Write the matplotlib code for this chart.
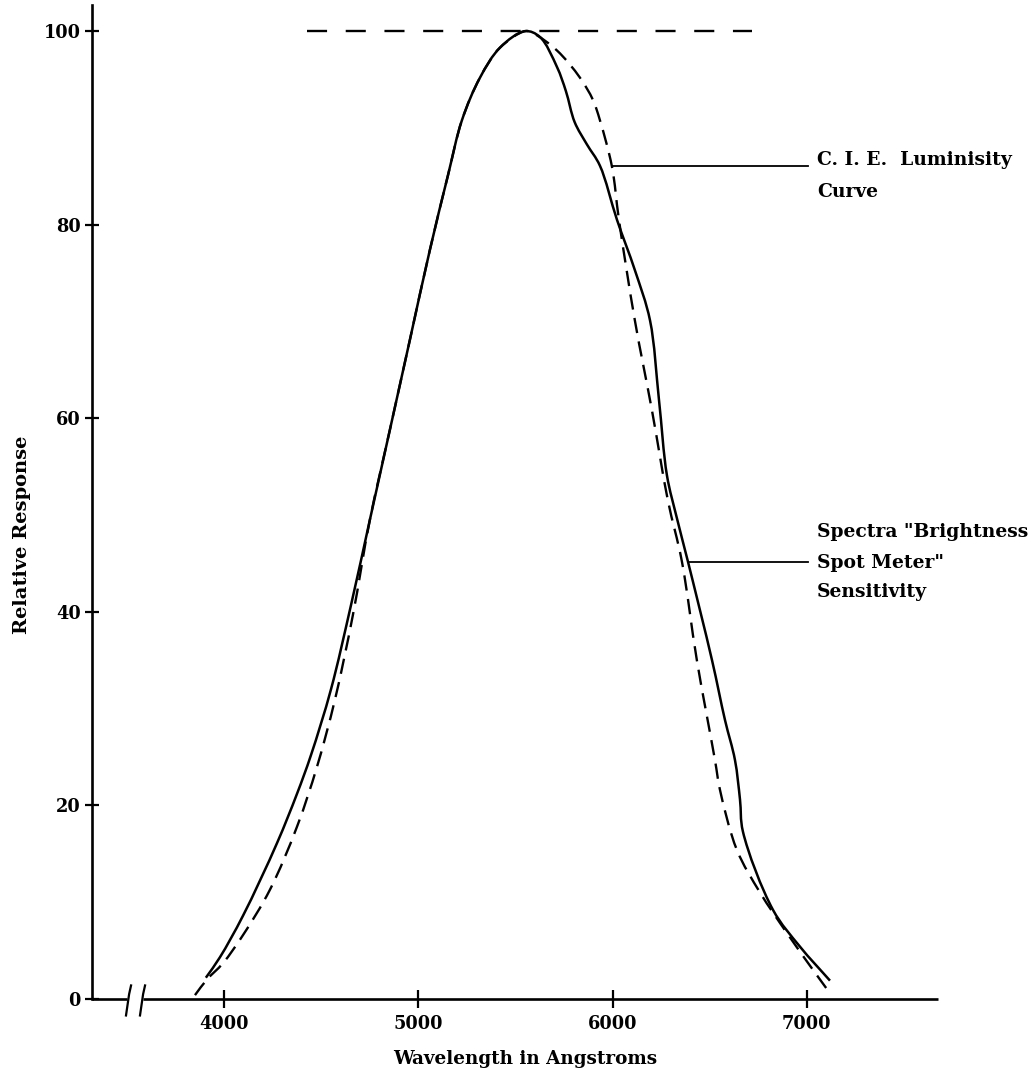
import matplotlib
matplotlib.use("Agg")
import matplotlib.pyplot as plt
import numpy as np
from matplotlib.path import Path
from matplotlib.patches import PathPatch

# Spectra "Brightness Spot Meter" sensitivity (solid curve)
meter_wl = [3907, 3979, 4098, 4273, 4376, 4448, 4551, 4654, 4751, 4854, 4957,
            5060, 5153, 5225, 5318, 5421, 5550, 5626, 5714, 5760, 5805, 5868,
            5935, 6023, 6115, 6193, 6239, 6280, 6331, 6388, 6512, 6579, 6630,
            6656, 6671, 6826, 6965, 7119]
meter_resp = [2.2, 4.3, 8.6, 16.1, 21.2, 25.2, 32.0, 40.7, 49.5, 58.8, 68.1,
              77.4, 85.1, 90.8, 95.2, 98.3, 100.0, 99.4, 96.3, 93.8, 90.6, 88.3,
              86.1, 80.5, 75.3, 70.1, 61.9, 54.1, 49.7, 45.2, 35.0, 28.8, 24.7,
              20.6, 17.3, 9.2, 5.4, 1.9]

# C.I.E. luminosity curve (dashed curve)
cie_wl = [3851, 3912, 3995, 4098, 4237, 4376, 4479, 4571, 4664, 4751, 4854,
          4957, 5060, 5153, 5225, 5318, 5421, 5550, 5590, 5714, 5832, 5899,
          5935, 5997, 6033, 6115, 6203, 6285, 6357, 6434, 6527, 6553, 6640,
          6759, 6898, 7032, 7119]
cie_resp = [0.4, 2.0, 3.7, 6.6, 11.3, 17.8, 24.0, 30.9, 39.7, 49.5, 58.8,
            68.1, 77.4, 85.1, 90.8, 95.2, 98.3, 100.0, 99.8, 98.0, 95.2, 92.9,
            90.8, 86.0, 80.5, 70.1, 60.8, 51.5, 45.2, 35.0, 24.7, 21.6, 15.4,
            11.0, 6.8, 3.0, 0.6]

x_ticks = [4000, 5000, 6000, 7000]
y_ticks = [0, 20, 40, 60, 80, 100]
reference_level = 100
reference_span = [4427, 6718]

# Rough drawing units per data unit, used to space the spline knots
X_UNIT, Y_UNIT = 0.194, 9.68


def smooth_path(xs, ys):
    """Centripetal Catmull-Rom curve through every point, as a Bezier path."""
    data = np.column_stack([xs, ys]).astype(float)
    scale = np.array([X_UNIT, Y_UNIT])
    p = data * scale
    ext = np.vstack([2 * p[0] - p[1], p, 2 * p[-1] - p[-2]])
    verts = [data[0]]
    codes = [Path.MOVETO]
    for i in range(len(p) - 1):
        p0, p1, p2, p3 = ext[i], ext[i + 1], ext[i + 2], ext[i + 3]
        d01 = max(np.linalg.norm(p1 - p0) ** 0.5, 1e-6)
        d12 = max(np.linalg.norm(p2 - p1) ** 0.5, 1e-6)
        d23 = max(np.linalg.norm(p3 - p2) ** 0.5, 1e-6)
        m1 = ((p1 - p0) / d01 - (p2 - p0) / (d01 + d12) + (p2 - p1) / d12) * d12
        m2 = ((p2 - p1) / d12 - (p3 - p1) / (d12 + d23) + (p3 - p2) / d23) * d12
        c1 = (p1 + m1 / 3.0) / scale
        c2 = (p2 - m2 / 3.0) / scale
        verts += [c1, c2, data[i + 1]]
        codes += [Path.CURVE4] * 3
    return Path(verts, codes)


W, H = 1035, 1078
fig = plt.figure(figsize=(W / 100, H / 100), dpi=100)
ax = fig.add_axes([92 / W, (H - 999) / H, (938 - 92) / W, (999 - 5) / H])

x_min, x_max = 3321, 7675
ax.set_xlim(x_min, x_max)
ax.set_ylim(0, 102.7)

lw_axis = 1.9
for side in ("top", "right", "bottom"):
    ax.spines[side].set_visible(False)
ax.spines["left"].set_linewidth(lw_axis)

# Broken horizontal axis line
brk1, brk2 = 3506, 3578
ax.plot([x_min, brk1 - 5], [0, 0], color="black", lw=lw_axis, clip_on=False,
        solid_capstyle="butt")
ax.plot([brk2 + 5, x_max], [0, 0], color="black", lw=lw_axis, clip_on=False,
        solid_capstyle="butt")
for cx in (brk1, brk2):
    ax.plot([cx + 16, cx + 6, cx - 2, cx - 10], [1.4, 0.5, -0.6, -1.7],
            color="black", lw=1.6, clip_on=False)

font = dict(family="DejaVu Serif", weight="bold")
ax.set_xticks(x_ticks)
ax.set_yticks(y_ticks)
ax.set_xticklabels([str(t) for t in x_ticks], fontsize=12.8, **font)
ax.set_yticklabels([str(t) for t in y_ticks], fontsize=12.8, **font)
ax.tick_params(axis="x", direction="inout", length=13, width=1.6, pad=5)
ax.tick_params(axis="y", direction="inout", length=10, width=1.6, pad=3)

ax.set_xlabel("Wavelength in Angstroms", fontsize=13.2, **font)
ax.xaxis.set_label_coords((525 - 92) / 846, -(1064 - 999) / 994)
ax.xaxis.label.set_va("baseline")
ax.set_ylabel("Relative Response", fontsize=14, **font)
ax.yaxis.set_label_coords((22 - 92) / 846, (999 - 535) / 994)
ax.yaxis.label.set_va("center")

# Curves
ax.add_patch(PathPatch(smooth_path(meter_wl, meter_resp), fill=False,
                       edgecolor="black", lw=1.8, clip_on=False))
ax.add_patch(PathPatch(smooth_path(cie_wl, cie_resp), fill=False,
                       edgecolor="black", lw=1.7, linestyle=(0, (6.5, 3.6)),
                       clip_on=False))
ax.plot(reference_span, [reference_level] * 2, color="black", lw=1.7,
        dashes=(8.5, 7.9))

# Callouts
leader_end, text_x = 7006, 7052
label_size = 13.5
ax.plot([5997, leader_end], [86.05, 86.05], color="black", lw=1.3, clip_on=False)
ax.text(text_x, 86.2, "C. I. E.  Luminisity", fontsize=label_size,
        va="baseline", ha="left", clip_on=False, **font)
ax.text(text_x, 82.85, "Curve", fontsize=label_size, va="baseline", ha="left",
        clip_on=False, **font)

ax.plot([6388, leader_end], [45.2, 45.2], color="black", lw=1.3, clip_on=False)
ax.text(text_x, 47.7, "Spectra \"Brightness", fontsize=label_size, va="baseline",
        ha="left", clip_on=False, **font)
ax.text(text_x, 44.5, "Spot Meter\"", fontsize=label_size, va="baseline",
        ha="left", clip_on=False, **font)
ax.text(text_x, 41.5, "Sensitivity", fontsize=label_size, va="baseline",
        ha="left", clip_on=False, **font)

fig.savefig("out.png", dpi=100)
